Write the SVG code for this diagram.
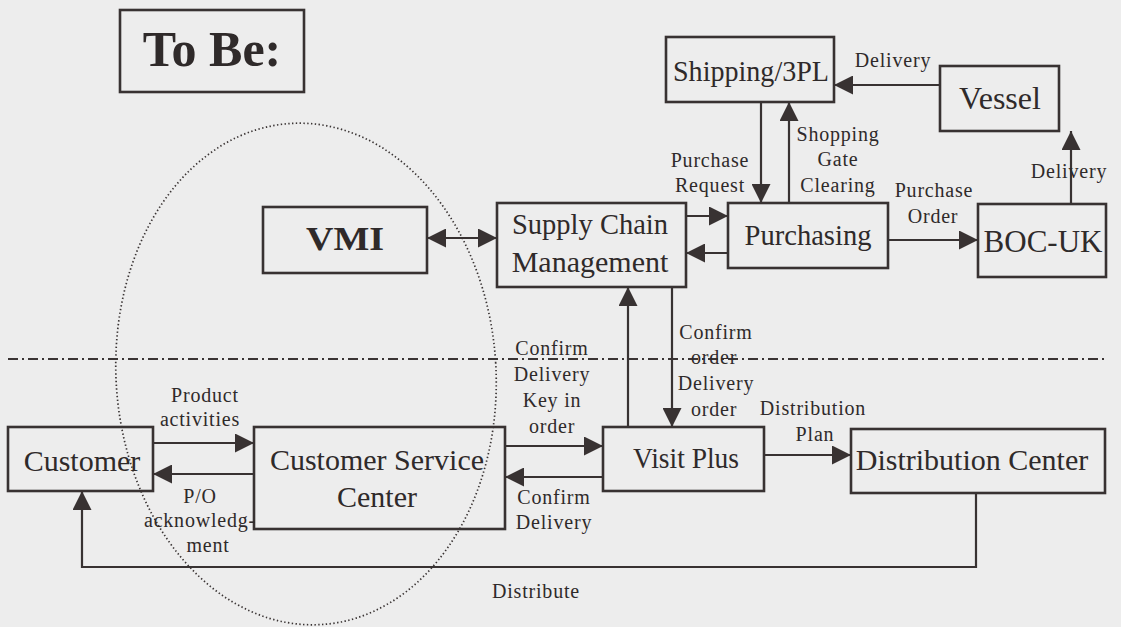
<svg xmlns="http://www.w3.org/2000/svg" width="1121" height="627" viewBox="0 0 1121 627">
  <style>
    .box { fill: none; stroke: #383232; stroke-width: 2.6; }
    .node { font-family: "Liberation Serif", "Times New Roman", serif; font-size: 30px; fill: #2f2a2a; text-anchor: middle; }
    .bold { font-weight: bold; }
    .lbl { font-family: "Liberation Serif", "Times New Roman", serif; font-size: 20px; letter-spacing: 0.8px; fill: #2f2a2a; text-anchor: middle; }
    .wire { fill: none; stroke: #383232; stroke-width: 2.2; }
    .arr { marker-end: url(#head); }
    .both { marker-start: url(#head); marker-end: url(#head); }
    .scope { fill: none; stroke: #3a3434; stroke-width: 1.7; stroke-dasharray: 1.4 2.4; }
    .divider { fill: none; stroke: #3a3434; stroke-width: 1.8; stroke-dasharray: 10 4 2 4; }
  </style>
  <defs>
    <marker id="head" markerUnits="userSpaceOnUse" markerWidth="19" markerHeight="19" viewBox="0 0 18 18" refX="18" refY="9" orient="auto-start-reverse">
      <path d="M0,0 L18,9 L0,18 Z" fill="#383232"/>
    </marker>
  </defs>

  <rect x="0" y="0" width="1121" height="627" fill="#ededed"/>

  <!-- scope of the VMI team and the planning divider -->
  <ellipse class="scope" cx="306" cy="374" rx="190" ry="251" transform="rotate(-3.5 306 374)"/>
  <line class="divider" x1="8" y1="359" x2="1106" y2="359"/>

  <g id="title">
    <rect class="box" x="120" y="10" width="184" height="82"/>
    <text class="node bold" x="212" y="66" style="font-size:50px">To Be:</text>
  </g>

  <g id="shipping">
    <rect class="box" x="666" y="37" width="168" height="65"/>
    <text class="node" x="751" y="81" textLength="156" lengthAdjust="spacingAndGlyphs">Shipping/3PL</text>
  </g>

  <g id="vessel">
    <rect class="box" x="940" y="66" width="119" height="65"/>
    <text class="node" x="1000" y="109" style="font-size:32px">Vessel</text>
  </g>

  <g id="vmi">
    <rect class="box" x="263" y="207" width="164" height="66"/>
    <text class="node bold" x="345" y="250" style="font-size:34px" textLength="78" lengthAdjust="spacingAndGlyphs">VMI</text>
  </g>

  <g id="scm">
    <rect class="box" x="497" y="203" width="189" height="84"/>
    <text class="node" x="590" y="234" textLength="156" lengthAdjust="spacingAndGlyphs">Supply Chain</text>
    <text class="node" x="590" y="272">Management</text>
  </g>

  <g id="purchasing">
    <rect class="box" x="728" y="203" width="160" height="65"/>
    <text class="node" x="808" y="245" textLength="127" lengthAdjust="spacingAndGlyphs">Purchasing</text>
  </g>

  <g id="boc-uk">
    <rect class="box" x="978" y="204" width="128" height="73"/>
    <text class="node" x="1043" y="252" style="font-size:31px">BOC-UK</text>
  </g>

  <g id="customer">
    <rect class="box" x="8" y="427" width="145" height="64"/>
    <text class="node" x="82" y="471">Customer</text>
  </g>

  <g id="csc">
    <rect class="box" x="254" y="427" width="251" height="102"/>
    <text class="node" x="377" y="470">Customer Service</text>
    <text class="node" x="377" y="507">Center</text>
  </g>

  <g id="visit-plus">
    <rect class="box" x="603" y="427" width="161" height="64"/>
    <text class="node" x="686" y="468" textLength="106" lengthAdjust="spacingAndGlyphs">Visit Plus</text>
  </g>

  <g id="distribution-center">
    <rect class="box" x="851" y="429" width="254" height="64"/>
    <text class="node" x="972" y="470">Distribution Center</text>
  </g>

  <g id="connectors">
    <path class="wire arr" d="M940,85 H834"/>
    <path class="wire arr" d="M761,102 V203"/>
    <path class="wire arr" d="M789,203 V102"/>
    <path class="wire arr" d="M1071,204 V131"/>
    <path class="wire arr" d="M888,240 H978"/>
    <path class="wire arr" d="M686,216 H728"/>
    <path class="wire arr" d="M728,253 H686"/>
    <path class="wire both" d="M427,238 H497"/>
    <path class="wire arr" d="M628,427 V287"/>
    <path class="wire arr" d="M672,287 V427"/>
    <path class="wire arr" d="M505,446 H603"/>
    <path class="wire arr" d="M603,477 H505"/>
    <path class="wire arr" d="M153,443 H254"/>
    <path class="wire arr" d="M254,474 H153"/>
    <path class="wire arr" d="M764,455 H851"/>
    <path class="wire arr" d="M976,493 V567 H82 V491"/>

    <text class="lbl" x="893" y="67">Delivery</text>
    <text class="lbl" x="710" y="167">Purchase</text>
    <text class="lbl" x="710" y="192">Request</text>
    <text class="lbl" x="838" y="141">Shopping</text>
    <text class="lbl" x="838" y="166">Gate</text>
    <text class="lbl" x="838" y="192">Clearing</text>
    <text class="lbl" x="1069" y="178">Delivery</text>
    <text class="lbl" x="934" y="197">Purchase</text>
    <text class="lbl" x="933" y="223">Order</text>
    <text class="lbl" x="716" y="339">Confirm</text>
    <text class="lbl" x="714" y="364">order</text>
    <text class="lbl" x="716" y="390">Delivery</text>
    <text class="lbl" x="714" y="416">order</text>
    <text class="lbl" x="813" y="415">Distribution</text>
    <text class="lbl" x="815" y="441">Plan</text>
    <text class="lbl" x="552" y="355">Confirm</text>
    <text class="lbl" x="552" y="381">Delivery</text>
    <text class="lbl" x="552" y="407">Key in</text>
    <text class="lbl" x="552" y="433">order</text>
    <text class="lbl" x="554" y="504">Confirm</text>
    <text class="lbl" x="554" y="529">Delivery</text>
    <text class="lbl" x="205" y="402">Product</text>
    <text class="lbl" x="200" y="426">activities</text>
    <text class="lbl" x="200" y="503">P/O</text>
    <text class="lbl" x="200" y="527">acknowledg-</text>
    <text class="lbl" x="208" y="552">ment</text>
    <text class="lbl" x="536" y="598">Distribute</text>
  </g>
</svg>
